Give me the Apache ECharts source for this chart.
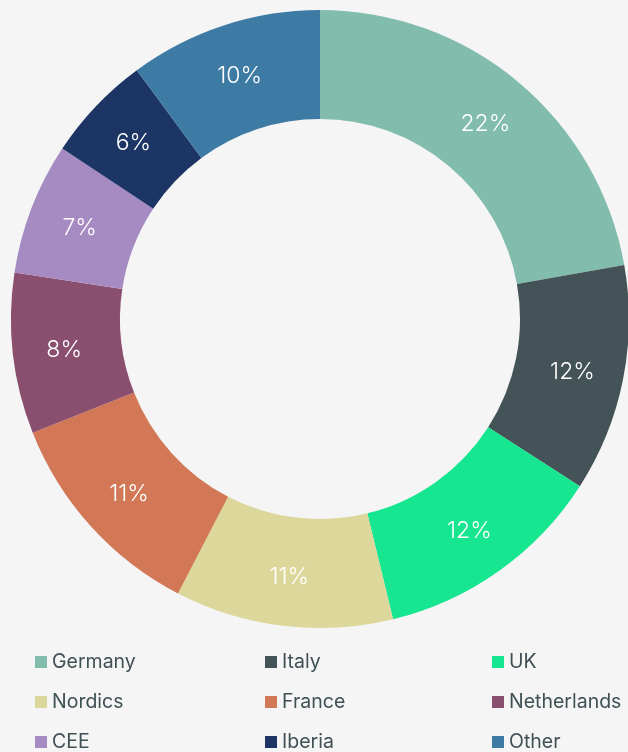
<!DOCTYPE html>
<html>
<head>
<meta charset="utf-8">
<script src="https://cdn.jsdelivr.net/npm/echarts@6/dist/echarts.min.js"></script>
<style>
  html, body { margin: 0; padding: 0; background: #f5f5f5; }
  #chart { width: 628px; height: 752px; }
</style>
</head>
<body>
<div id="chart"></div>
<script>
// share by market, %
const markets = ['Germany', 'Italy', 'UK', 'Nordics', 'France', 'Netherlands', 'CEE', 'Iberia', 'Other'];
const shares = [22.2, 11.9, 12.1, 11.4, 11.4, 8.4, 6.9, 5.6, 10.1];
const colors = ['#82bcad', '#445357', '#17e691', '#dcd89b', '#d37857', '#8a4f6f', '#a68ac2', '#1c3564', '#3e7ba4'];

// legend columns
const legendCols = [
  ['Germany', 'Nordics', 'CEE'],
  ['Italy', 'France', 'Iberia'],
  ['UK', 'Netherlands', 'Other'],
];
const legendLeft = [35, 265, 492];

const chart = echarts.init(document.getElementById('chart'));

const legendBase = {
  orient: 'vertical',
  top: 652,
  height: 200,
  padding: 0,
  itemWidth: 12,
  itemHeight: 12,
  itemGap: 20,
  icon: 'rect',
  selectedMode: false,
  textStyle: {
    fontFamily: 'Inter',
    fontSize: 19.5,
    color: '#3f5155',
  },
};

const option = {
  backgroundColor: '#f5f5f5',
  color: colors,
  legend: legendCols.map((col, i) => Object.assign({}, legendBase, {
    left: legendLeft[i],
    data: col,
  })),
  series: [
    {
      type: 'pie',
      center: [320, 319],
      radius: [200, 309],
      startAngle: 90,
      clockwise: true,
      animation: false,
      label: {
        show: true,
        position: 'inside',
        offset: [0, 2],
        color: '#ffffff',
        fontFamily: 'Inter',
        fontWeight: 300,
        fontSize: 23,
        formatter: p => Math.round(p.value) + '%',
      },
      labelLine: { show: false },
      emphasis: { disabled: true },
      data: markets.map((name, i) => ({ name, value: shares[i] })),
    },
  ],
};

chart.setOption(option);
</script>
</body>
</html>
